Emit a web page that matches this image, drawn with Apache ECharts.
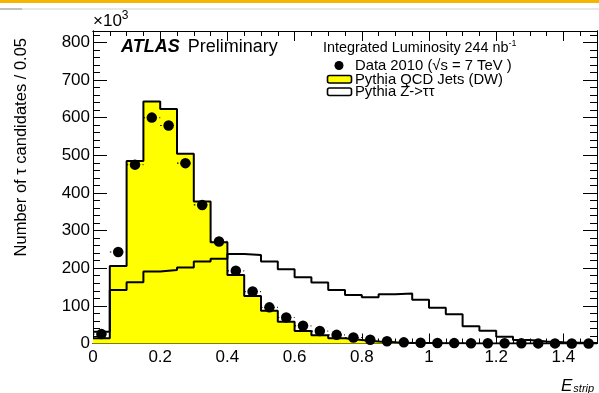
<!DOCTYPE html>
<html>
<head>
<meta charset="utf-8">
<script src="https://cdn.jsdelivr.net/npm/echarts@6/dist/echarts.min.js"></script>
<style>
  html, body { margin: 0; padding: 0; background: #ffffff; }
  #chart { width: 599px; height: 393px; }
</style>
</head>
<body>
<div id="chart"></div>
<script>
// Histogram binning (width 0.05)
const binWidth = 0.05;
const binLowEdges = [0.00, 0.05, 0.10, 0.15, 0.20, 0.25, 0.30, 0.35, 0.40, 0.45,
                     0.50, 0.55, 0.60, 0.65, 0.70, 0.75, 0.80, 0.85, 0.90, 0.95,
                     1.00, 1.05, 1.10, 1.15, 1.20, 1.25, 1.30, 1.35, 1.40, 1.45];

// Entries per bin, in units of 10^3
const dataCounts = [25, 243, 475, 600, 579, 479, 368, 271, 193, 138,
                    96, 69, 47, 33, 23, 16, 10, 6, 3, 2,
                    1.3, 1.0, 0.8, 0.6, 0.5, 0.4, 0.3, 0.3, 0.2, 0.2];
const qcdCounts = [14, 206, 485, 643, 623, 504, 377, 269, 182, 126,
                   87, 58, 33, 22, 14, 9, 5, 3, 1.5, 1.0,
                   0.6, 0.4, 0.3, 0.2, 0.2, 0.1, 0.1, 0.1, 0.1, 0.1];
const ztautauCounts = [31, 142, 163, 191, 195, 202, 218, 225, 238, 235,
                       218, 197, 176, 162, 142, 129, 123, 131, 133, 116,
                       95, 78, 46, 34, 18, 9, 5, 3, 2, 1];

const xMin = 0, xMax = 1.5, xMajor = 0.2, xMinor = 0.05;
const yMin = 0, yMax = 830, yMajor = 100, yMinor = 20;

const FONT = '"Liberation Sans", Arial, Helvetica, sans-serif';

// Step outline points: one per bin low edge plus the final upper edge
function stepPoints(values) {
  const pts = binLowEdges.map((x, i) => [x, values[i]]);
  pts.push([binLowEdges[binLowEdges.length - 1] + binWidth, values[values.length - 1]]);
  return pts;
}
const dataPoints = binLowEdges.map((x, i) => [x + binWidth / 2, dataCounts[i]]);

function xAxisDef(position, interval, tickLen, withLabels) {
  return {
    type: 'value', position: position, min: xMin, max: xMax, interval: interval,
    axisLine: { show: true, onZero: false, lineStyle: { color: '#000', width: 1 } },
    axisTick: { show: true, inside: true, length: tickLen, lineStyle: { color: '#000', width: 1 } },
    splitLine: { show: false },
    axisLabel: {
      show: withLabels, color: '#000', fontSize: 17, fontFamily: FONT, margin: 5,
      showMaxLabel: false
    }
  };
}
function yAxisDef(position, interval, tickLen, withLabels) {
  return {
    type: 'value', position: position, min: yMin, max: yMax, interval: interval,
    axisLine: { show: true, onZero: false, lineStyle: { color: '#000', width: 1 } },
    axisTick: { show: true, inside: true, length: tickLen, lineStyle: { color: '#000', width: 1 } },
    splitLine: { show: false },
    axisLabel: {
      show: withLabels, color: '#000', fontSize: 17, fontFamily: FONT, margin: 3,
      showMaxLabel: false
    }
  };
}

const chart = echarts.init(document.getElementById('chart'), null, { renderer: 'canvas' });

chart.setOption({
  animation: false,
  backgroundColor: '#ffffff',
  grid: { left: 93, right: 2, top: 31, bottom: 49.5 },
  xAxis: [
    xAxisDef('bottom', xMajor, 10, true),
    xAxisDef('bottom', xMinor, 5, false),
    xAxisDef('top', xMajor, 10, false),
    xAxisDef('top', xMinor, 5, false)
  ],
  yAxis: [
    yAxisDef('left', yMajor, 14, true),
    yAxisDef('left', yMinor, 7, false),
    yAxisDef('right', yMajor, 14, false),
    yAxisDef('right', yMinor, 7, false)
  ],
  series: [
    {
      name: 'Pythia QCD Jets (DW)',
      type: 'line', step: 'end', xAxisIndex: 0, yAxisIndex: 0,
      data: stepPoints(qcdCounts),
      symbol: 'none',
      lineStyle: { color: '#000', width: 2 },
      areaStyle: { color: '#ffff00', opacity: 1 },
      z: 2
    },
    {
      name: 'Pythia Z->ττ',
      type: 'line', step: 'end', xAxisIndex: 0, yAxisIndex: 0,
      data: stepPoints(ztautauCounts),
      symbol: 'none',
      lineStyle: { color: '#000', width: 2 },
      z: 3
    },
    {
      name: 'bin width',
      type: 'custom', xAxisIndex: 0, yAxisIndex: 0,
      data: dataPoints,
      renderItem: function (params, api) {
        const x = api.value(0), y = api.value(1);
        const p1 = api.coord([x - binWidth / 2, y]);
        const p2 = api.coord([x + binWidth / 2, y]);
        return {
          type: 'line',
          shape: { x1: p1[0], y1: p1[1], x2: p2[0], y2: p2[1] },
          style: { stroke: '#000', lineWidth: 1.2, lineDash: [1.5, 2.5] }
        };
      },
      z: 4
    },
    {
      name: 'Data 2010',
      type: 'scatter', xAxisIndex: 0, yAxisIndex: 0,
      data: dataPoints,
      symbol: 'circle', symbolSize: 10.5,
      itemStyle: { color: '#000', opacity: 1 },
      z: 5
    }
  ],
  graphic: [
    // page header strip
    { type: 'rect', shape: { x: 0, y: 0, width: 599, height: 3 }, style: { fill: '#f5b400' }, silent: true },
    { type: 'rect', shape: { x: 0, y: 8.5, width: 599, height: 1 }, style: { fill: '#cfcfcf' }, silent: true },
    { type: 'rect', shape: { x: 0, y: 8.5, width: 22, height: 1 }, style: { fill: '#9a9a9a' }, silent: true },
    // axis exponent
    {
      type: 'text', x: 93, y: 21,
      style: {
        text: '{m|×10}{e|3}', verticalAlign: 'middle', align: 'left',
        rich: {
          m: { fontFamily: FONT, fontSize: 17, fill: '#000' },
          e: { fontFamily: FONT, fontSize: 12, fill: '#000', verticalAlign: 'top', padding: [0, 0, 10, 0] }
        }
      }
    },
    // y axis title
    {
      type: 'text', x: 21, y: 38, rotation: Math.PI / 2,
      style: {
        text: 'Number of τ candidates / 0.05', fontFamily: FONT, fontSize: 16.5,
        fill: '#000', align: 'right', verticalAlign: 'middle'
      }
    },
    // x axis title
    {
      type: 'text', x: 561, y: 386,
      style: {
        text: '{e|E}{s|strip}', align: 'left', verticalAlign: 'middle',
        rich: {
          e: { fontFamily: FONT, fontSize: 17, fontStyle: 'italic', fill: '#000' },
          s: { fontFamily: FONT, fontSize: 11, fontStyle: 'italic', fill: '#000', padding: [6, 0, 0, 1] }
        }
      }
    },
    // experiment label
    {
      type: 'text', x: 121, y: 47,
      style: {
        text: '{a|ATLAS}{b|Preliminary}', align: 'left', verticalAlign: 'middle',
        rich: {
          a: { fontFamily: FONT, fontSize: 18, fontWeight: 'bold', fontStyle: 'italic', fill: '#000' },
          b: { fontFamily: FONT, fontSize: 18, fill: '#000', padding: [0, 0, 0, 8] }
        }
      }
    },
    {
      type: 'text', x: 323, y: 48,
      style: {
        text: '{t|Integrated Luminosity 244 nb}{s|-1}', align: 'left', verticalAlign: 'middle',
        rich: {
          t: { fontFamily: FONT, fontSize: 14.4, fill: '#000' },
          s: { fontFamily: FONT, fontSize: 9, fill: '#000', padding: [0, 0, 9, 0] }
        }
      }
    },
    // legend
    { type: 'circle', shape: { cx: 339, cy: 65.5, r: 4.5 }, style: { fill: '#000' } },
    {
      type: 'text', x: 355, y: 66,
      style: { text: 'Data 2010 (√s = 7 TeV )', fontFamily: FONT, fontSize: 14.8, fill: '#000', align: 'left', verticalAlign: 'middle' }
    },
    { type: 'rect', shape: { x: 327.5, y: 75.5, width: 24, height: 7.5, r: 2 }, style: { fill: '#ffff00', stroke: '#000', lineWidth: 1.6 } },
    {
      type: 'text', x: 355, y: 80,
      style: { text: 'Pythia QCD Jets (DW)', fontFamily: FONT, fontSize: 14.8, fill: '#000', align: 'left', verticalAlign: 'middle' }
    },
    { type: 'rect', shape: { x: 327.5, y: 88, width: 24, height: 7.5, r: 2 }, style: { fill: '#ffffff', stroke: '#000', lineWidth: 1.6 } },
    {
      type: 'text', x: 355, y: 92,
      style: { text: 'Pythia Z->ττ', fontFamily: FONT, fontSize: 14.8, fill: '#000', align: 'left', verticalAlign: 'middle' }
    }
  ]
});
</script>
</body>
</html>
